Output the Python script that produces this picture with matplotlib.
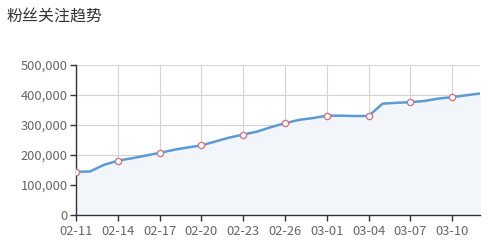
import matplotlib
matplotlib.use("Agg")
import matplotlib.pyplot as plt

plt.rcParams['font.family'] = ['Noto Sans CJK SC', 'DejaVu Sans']

days = list(range(30))
followers = [144000, 145000, 167000, 181000, 189000, 198000, 207000, 217000, 225000, 232000,
             245000, 258000, 268000, 278000, 293000, 306000, 317000, 323000, 331000, 331000,
             330000, 330000, 371000, 374000, 376000, 380000, 388000, 393000, 399000, 405000]
tick_days = [0, 3, 6, 9, 12, 15, 18, 21, 24, 27]
tick_labels = ["02-11", "02-14", "02-17", "02-20", "02-23", "02-26", "03-01", "03-04", "03-07", "03-10"]
y_ticks = [0, 100000, 200000, 300000, 400000, 500000]
title = "粉丝关注趋势"

fig = plt.figure(figsize=(5.02, 2.5), dpi=100)
ax = fig.add_axes([76/502, 35/250, (480-76)/502, 150/250])

ax.fill_between(days, followers, 0, color="#f2f6fa", zorder=1)
ax.plot(days, followers, color="#5b9bd5", lw=1.8, zorder=3, solid_capstyle="round",
        solid_joinstyle="round")
mk = [days[i] for i in tick_days]
mv = [followers[i] for i in tick_days]
ax.plot(mk, mv, ls="none", marker="o", ms=4.5, mfc="white", mec="#d07a86", mew=1.0, zorder=4)

ax.set_xlim(0, 29)
ax.set_ylim(0, 500000)
ax.set_xticks(tick_days)
ax.set_xticklabels(tick_labels)
ax.set_yticks(y_ticks)
ax.set_yticklabels([f"{v:,}" for v in y_ticks])
ax.grid(True, color="#d4d4d4", lw=0.8, zorder=0)
ax.set_axisbelow(True)
for s in ["top", "right"]:
    ax.spines[s].set_visible(False)
for s in ["left", "bottom"]:
    ax.spines[s].set_color("#333333")
    ax.spines[s].set_linewidth(1.0)
ax.tick_params(axis="both", colors="#333333", labelcolor="#666666", labelsize=9.3, length=4, width=1)
ax.tick_params(axis="x", pad=3)
ax.tick_params(axis="y", pad=2)

fig.text(7/502, 1-17/250, title, fontsize=11.5, color="#333333", va="center", ha="left")

fig.savefig("out.png", dpi=100, facecolor="white")
